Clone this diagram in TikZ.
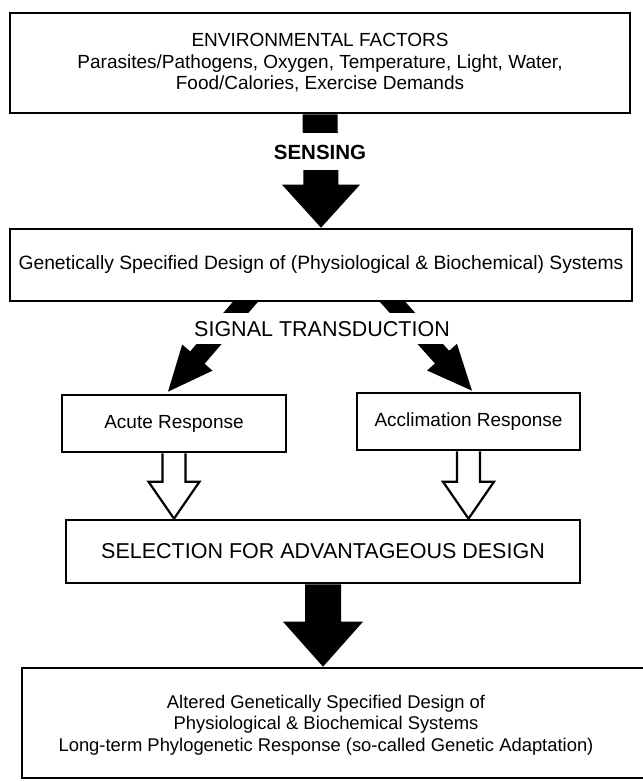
\documentclass[tikz,border=0pt]{standalone}
\usepackage{fontspec}
\setmainfont{Liberation Sans}
\usetikzlibrary{calc,backgrounds}

\begin{document}
\begin{tikzpicture}[x=1pt, y=1pt,
  box/.style={draw, fill=white, line width=2.6pt, inner sep=0pt, align=center},
  gap/.style={fill=white, inner xsep=4pt, inner ysep=0pt},
  hollow/.style={draw, fill=white, line width=2.2pt, line join=miter}]
\useasboundingbox (0,0) rectangle (642,781);

% boxes
\node[box, minimum width=620pt, minimum height=100pt, font=\fontsize{19}{21.5}\selectfont] (env) at (320,718)
  {ENVIRONMENTAL FACTORS\\Parasites/Pathogens, Oxygen, Temperature, Light, Water,\\Food/Calories, Exercise Demands};
\node[box, minimum width=622pt, minimum height=72pt, font=\fontsize{19.3}{22}\selectfont] (gen) at (321,516)
  {Genetically Specified Design of (Physiological \& Biochemical) Systems};
\node[box, minimum width=224pt, minimum height=57pt, font=\fontsize{19}{22}\selectfont] (acute) at (174,357.5)
  {Acute Response};
\node[box, minimum width=223pt, minimum height=57pt, font=\fontsize{19}{22}\selectfont] (acclim) at (468.5,359.5)
  {Acclimation Response};
\node[box, minimum width=514pt, minimum height=63pt, font=\fontsize{21.5}{24}\selectfont] (sel) at (323,229.5)
  {SELECTION FOR ADVANTAGEOUS DESIGN};
\node[box, minimum width=660pt, minimum height=110pt] (alt) at (352,58) {};
\node[align=center, font=\fontsize{18.4}{21.5}\selectfont] (alttext) at (326,56)
  {Altered Genetically Specified Design of\\Physiological \& Biochemical Systems\\Long-term Phylogenetic Response (so-called Genetic Adaptation)};

% labels over the arrows
\node[gap, minimum height=37pt, font=\fontsize{20.5}{24}\selectfont\bfseries] (sensing) at (320,629) {SENSING};
\node[gap, minimum height=31pt, font=\fontsize{21.5}{24}\selectfont] (signal) at (322,452) {SIGNAL TRANSDUCTION};

\begin{scope}[on background layer]
  % sensing
  \fill ($(env.south)+(-17.5,0)$) -- ($(gen.north)+(-17.5,43)$) -- ($(gen.north)+(-39,43)$) -- (gen.north)
    -- ($(gen.north)+(39,43)$) -- ($(gen.north)+(17.5,43)$) -- ($(env.south)+(17.5,0)$) -- cycle;
  % signal transduction
  \coordinate (sl) at ($(gen.south)+(-76,0)$);
  \coordinate (sr) at ($(gen.south)+(72,0)$);
  \coordinate (tl) at ($(acute.north)+(-6,2)$);
  \coordinate (tr) at ($(acclim.north)+(3.5,1)$);
  \foreach \s/\t in {sl/tl, sr/tr} {
    \coordinate (h\s) at ($(\t)!45pt!(\s)$);
    \coordinate (e\s) at ($(\s)!-15pt!(\t)$);
    \fill ($(e\s)!9.5pt!90:(\t)$) -- ($(h\s)!9.5pt!90:(\t)$) -- ($(h\s)!20pt!90:(\t)$) -- (\t)
      -- ($(h\s)!20pt!-90:(\t)$) -- ($(h\s)!9.5pt!-90:(\t)$) -- ($(e\s)!9.5pt!-90:(\t)$) -- cycle;
  }
  % selection to altered design
  \coordinate (ta) at (sel.south |- alt.north);
  \fill ($(sel.south)+(-18,0)$) -- ($(ta)+(-18,45)$) -- ($(ta)+(-40,45)$) -- (ta)
    -- ($(ta)+(40,45)$) -- ($(ta)+(18,45)$) -- ($(sel.south)+(18,0)$) -- cycle;
\end{scope}

% responses to selection
\foreach \b in {acute, acclim} {
  \coordinate (t\b) at (\b.south |- sel.north);
  \draw[hollow] ($(\b.south)+(-11.5,0)$) -- ($(t\b)+(-11.5,37)$) -- ($(t\b)+(-25.5,37)$) -- (t\b)
    -- ($(t\b)+(25.5,37)$) -- ($(t\b)+(11.5,37)$) -- ($(\b.south)+(11.5,0)$);
}
\end{tikzpicture}
\end{document}
